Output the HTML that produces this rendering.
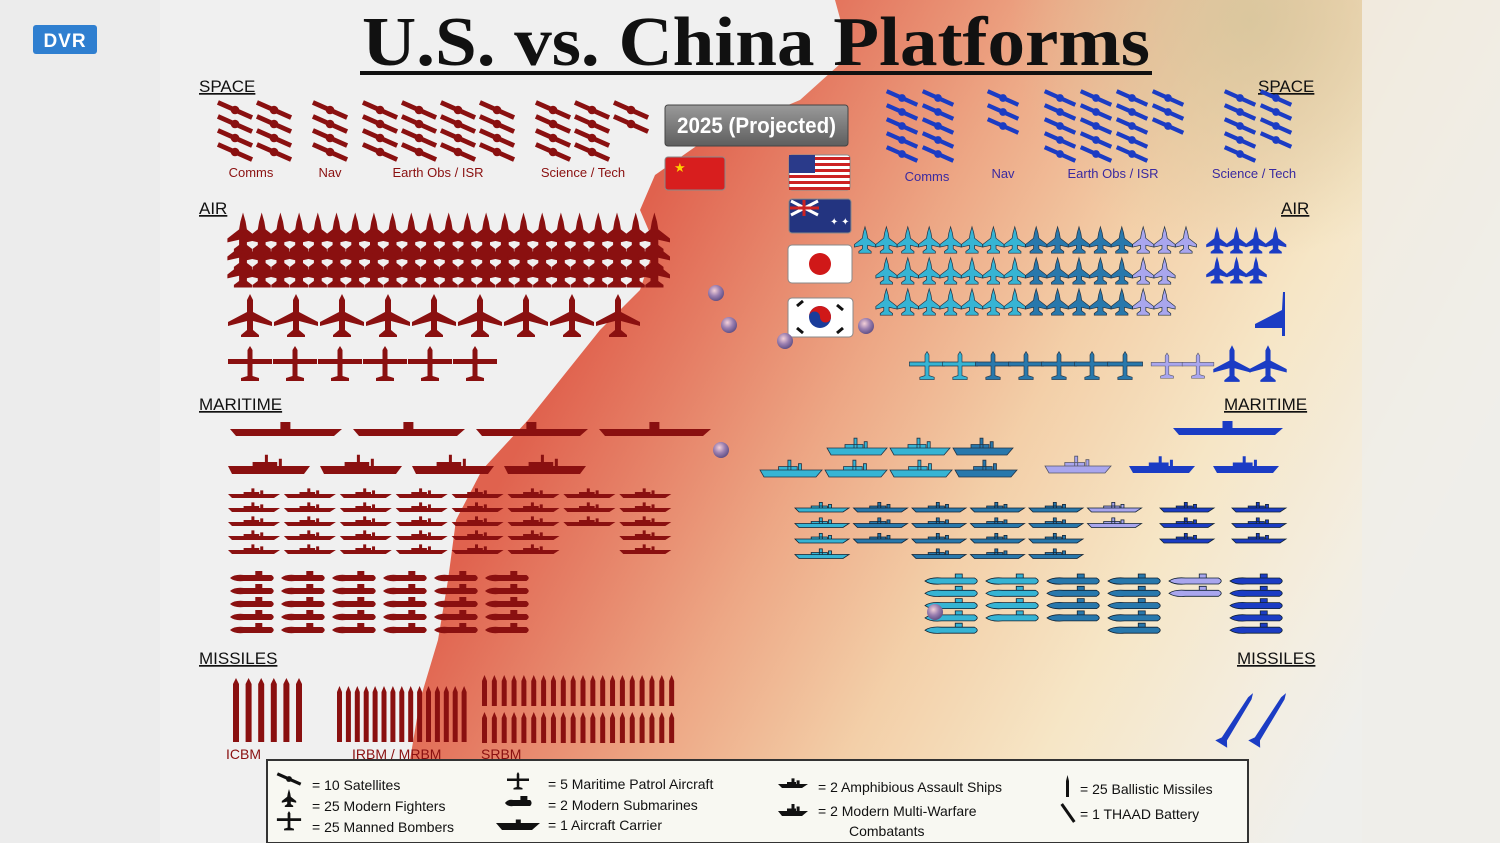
<!DOCTYPE html>
<html><head><meta charset="utf-8"><style>
html,body{margin:0;padding:0;background:#ececec;}
svg{display:block;font-family:"Liberation Sans",sans-serif;}
</style></head><body>
<svg id="chart" width="1500" height="843" viewBox="0 0 1500 843" xmlns="http://www.w3.org/2000/svg">
<defs>
<linearGradient id="heat" gradientUnits="userSpaceOnUse" x1="580" y1="330" x2="1350" y2="740">
<stop offset="0" stop-color="#e0624e"/><stop offset="0.12" stop-color="#e57d64"/><stop offset="0.3" stop-color="#eda785"/>
<stop offset="0.5" stop-color="#f3cfa8"/><stop offset="0.7" stop-color="#f6e6c6"/><stop offset="0.9" stop-color="#f3eee2"/><stop offset="1" stop-color="#efefec"/>
</linearGradient>
<radialGradient id="topbeige" gradientUnits="userSpaceOnUse" cx="1250" cy="20" r="240"><stop offset="0" stop-color="#d6c59c" stop-opacity="0.85"/><stop offset="1" stop-color="#d6c59c" stop-opacity="0"/></radialGradient>
<linearGradient id="btn" x1="0" y1="0" x2="0" y2="1"><stop offset="0" stop-color="#9a9a9a"/><stop offset="1" stop-color="#5e5e5e"/></linearGradient>
<radialGradient id="globe" cx="0.4" cy="0.35" r="0.7"><stop offset="0" stop-color="#f4d0d8"/><stop offset="0.5" stop-color="#9a7fb0"/><stop offset="1" stop-color="#5a4a80"/></radialGradient>
</defs>
<rect x="0" y="0" width="1500" height="843" fill="#ececec"/>
<rect x="160" y="0" width="1200" height="843" fill="#f0f0f0"/>
<polygon fill="url(#heat)" points="835,0 850,55 800,100 705,140 655,175 640,210 655,245 640,290 600,330 560,380 528,420 482,470 456,520 448,580 438,640 420,700 410,760 410,843 1500,843 1500,0"/>
<rect x="1000" y="0" width="362" height="270" fill="url(#topbeige)"/>
<rect x="1362" y="0" width="138" height="843" fill="#efeeea" opacity="0.75"/>
<rect x="33" y="25" width="64" height="29" rx="3" fill="#2f7fd0"/>
<text x="65" y="47" text-anchor="middle" fill="#fff" font-size="19" font-weight="bold" letter-spacing="1">DVR</text>
<text x="362" y="65" textLength="788" lengthAdjust="spacingAndGlyphs" font-family="Liberation Serif,serif" font-weight="bold" font-size="70" fill="#111">U.S. vs. China Platforms</text>
<rect x="360" y="71" width="792" height="4" fill="#111"/>
<g id="labels" font-size="17" fill="#111"></g>
<g id="marks"></g>
<rect x="665" y="105" width="183" height="41" rx="3" fill="url(#btn)" stroke="#444"/>
<text x="677" y="133" textLength="159" lengthAdjust="spacingAndGlyphs" fill="#fff" font-size="22" font-weight="bold">2025 (Projected)</text>
<g>
<rect x="665" y="157" width="60" height="33" rx="3" fill="#d81e1e" stroke="#888"/>
<text x="674" y="172" fill="#ffd000" font-size="13">★</text></g>
<g>
<rect x="789" y="155" width="61" height="35" rx="3" fill="#fff" stroke="#888"/>
<rect x="789" y="157" width="61" height="3" fill="#c22"/><rect x="789" y="163" width="61" height="3" fill="#c22"/><rect x="789" y="169" width="61" height="3" fill="#c22"/><rect x="789" y="175" width="61" height="3" fill="#c22"/><rect x="789" y="181" width="61" height="3" fill="#c22"/><rect x="789" y="187" width="61" height="3" fill="#c22"/>
<rect x="789" y="155" width="26" height="18" fill="#2a3a8a"/></g>
<g>
<rect x="789" y="199" width="62" height="34" rx="3" fill="#233480" stroke="#888"/>
<path d="M791,201 L818,215 M818,201 L791,215" stroke="#fff" stroke-width="3"/><path d="M804,200 V216 M790,208 H819" stroke="#c22" stroke-width="3"/>
<text x="830" y="225" fill="#fff" font-size="10">✦ ✦</text></g>
<g>
<rect x="788" y="245" width="64" height="38" rx="4" fill="#fff" stroke="#888"/><circle cx="820" cy="264" r="11" fill="#d01818"/></g>
<g>
<rect x="788" y="298" width="65" height="39" rx="4" fill="#fff" stroke="#888"/>
<circle cx="820" cy="317" r="11" fill="#1a3c9a"/><path d="M809,317 A11,11 0 0 1 831,317 A5.5,5.5 0 0 1 820,317 A5.5,5.5 0 0 0 809,317Z" fill="#d01818"/>
<path d="M797,306 l6,-5 M837,305 l6,5 M797,328 l6,5 M837,333 l6,-5" stroke="#111" stroke-width="3"/></g>
<g id="globes"></g>
<rect x="267" y="760" width="981" height="83" fill="#f8f8f2" stroke="#333" stroke-width="2"/>
<g id="legend" font-size="14" fill="#111"></g>
</svg>
<script>
// ===== data (counts of icons) =====
const satGroups = ['Comms','Nav','Earth Obs / ISR','Science / Tech'];
const cnSatCounts = [8,4,16,10];
const usSatCounts = [10,3,18,9];
const cnFighters = 69;
const usFighterTypes = ['cyan','teal','lavender','blue'];
const usFighterCounts = [22,15,7,7];
const cnPatrol = 9;
const cnBombers = 6;
const usPatrolCounts = [2,5,2,2];
const usBombers = 1;
const cnCarriers = 4;
const cnAmphib = 4;
const cnDestroyerCols = [5,5,5,5,5,5,3,5];
const cnSubCols = [5,5,5,5,5,5];
const usCarriers = 1;
const usAmphibCounts = [5,2,1,2];
const usDestroyerCols = [4,3,4,4,4,2,3,3];
const usDestroyerColTypes = [0,1,1,1,1,2,3,3];
const usSubCols = [5,4,4,5,2,5];
const usSubColTypes = [0,0,1,1,2,3];
const cnMissileGroups = ['ICBM','IRBM / MRBM','SRBM'];
const cnMissileCounts = [6,15,40];
const usThaad = 2;

// ===== rendering =====
const NS='http://www.w3.org/2000/svg';
const RED='#8a1010';
const US=['#36b4d4','#2878ac','#a9a6ee','#1b3cc4'];
const marks=document.getElementById('marks');
function mk(tag,parent){const e=document.createElementNS(NS,tag);parent.appendChild(e);return e;}
function P(d,fill,parent,stroke){const e=mk('path',parent);e.setAttribute('d',d);e.setAttribute('fill',fill);if(stroke){e.setAttribute('stroke',stroke);e.setAttribute('stroke-width','0.8');}return e;}
const FIGHTER='M0,-15 L2,-8 L3,-2 L12,5 L12,8 L3,6 L3,10 L7,13 L7,15 L-7,15 L-7,13 L-3,10 L-3,6 L-12,8 L-12,5 L-3,-2 L-2,-8Z';
const PLANE='M0,-22 L3,-16 L3,-4 L22,6 L22,10 L3,5 L3,14 L9,19 L9,21 L-9,21 L-9,19 L-3,14 L-3,5 L-22,10 L-22,6 L-3,-4 L-3,-16Z';
const BOMBER='M0,-18 L2.5,-14 L2.5,-5 L22,-5 L22,0 L2.5,0 L2.5,12 L9,14 L9,17 L-9,17 L-9,14 L-2.5,12 L-2.5,0 L-22,0 L-22,-5 L-2.5,-5 L-2.5,-14Z';
function grp(x,y,s,parent){const g=mk('g',parent||marks);g.setAttribute('transform','translate('+x+','+y+') scale('+s+')');return g;}
function sat(x,y,color,s,parent){const g=grp(x,y,s||1,parent);
 const l=mk('line',g);l.setAttribute('x1',-18);l.setAttribute('y1',-8);l.setAttribute('x2',18);l.setAttribute('y2',8);l.setAttribute('stroke',color);l.setAttribute('stroke-width',5);
 const c=mk('circle',g);c.setAttribute('r',4.5);c.setAttribute('fill',color);return g;}
function carrier(x,y,w,color,parent,isl){const g=grp(x,y,1,parent);isl=isl||10;P('M0,-3 L'+w+',-3 L'+(w-8)+',4 L6,4Z M'+(w*0.45)+',-3 v-'+(isl*0.7)+' h'+isl+' v'+(isl*0.7)+'Z',color,g);return g;}
function ship(x,y,w,color,h,stroke,parent){const g=grp(x,y,1,parent);h=h||7;
 P('M0,0 L'+w+',0 L'+(w-6)+','+h+' L4,'+h+'Z M'+(w*0.3)+',0 v-'+(h*0.5)+' h'+(w*0.3)+' v'+(h*0.5)+'Z M'+(w*0.45)+',0 v-'+(h*1.4)+' h3 v'+(h*1.4)+'Z M'+(w*0.62)+',0 v-'+(h*0.9)+' h3 v'+(h*0.9)+'Z',color,g,stroke);return g;}
function sub(x,y,w,color,stroke,parent){const g=grp(x,y,1,parent);
 P('M0,0 Q'+(w*0.1)+',-4 '+(w*0.3)+',-3 L'+(w*0.9)+',-3 Q'+w+',0 '+(w*0.9)+',3 L'+(w*0.3)+',3 Q'+(w*0.1)+',4 0,0Z M'+(w*0.55)+',-3 v-4 h7 v4Z',color,g,stroke);return g;}
function missile(x,y1,y2,w,color,parent){const g=grp(x,0,1,parent);P('M0,'+(y1+6)+' L'+(w/2)+','+y1+' L'+w+','+(y1+6)+' L'+w+','+y2+' L0,'+y2+'Z',color,g);return g;}
function label(txt,x,y,color,size,anchor,parent){const t=mk('text',parent||marks);t.setAttribute('x',x);t.setAttribute('y',y);t.setAttribute('fill',color);t.setAttribute('font-size',size);if(anchor)t.setAttribute('text-anchor',anchor);t.textContent=txt;return t;}

// section headers
const L=document.getElementById('labels');
[['SPACE',199,92,'left'],['SPACE',1258,92,'right'],['AIR',199,214,'left'],['AIR',1281,214,'right'],['MARITIME',199,410,'left'],['MARITIME',1224,410,'right'],['MISSILES',199,664,'left'],['MISSILES',1237,664,'right']].forEach(h=>{
 const t=label(h[0],h[1],h[2],'#111',17,null,L);
 
 
 t.setAttribute('text-decoration','underline');
});

// satellites (each icon = 10)
const cnSatX=[235,330,380,553], usSatX=[902,1003,1060,1240], cnLabX=[251,330,438,583], usLabX=[927,1003,1113,1254];
satGroups.forEach((name,gi)=>{
 const g=mk('g',marks);
 
 
 for(let i=0;i<cnSatCounts[gi];i++){const c=Math.floor(i/4),r=i%4;sat(cnSatX[gi]+c*39,110+r*14,RED,0.95,g);}
 const t=label(name,cnLabX[gi],177,RED,13,'middle');
 
 
 const u=mk('g',marks);
 
 
 for(let i=0;i<usSatCounts[gi];i++){const c=Math.floor(i/5),r=i%5;sat(usSatX[gi]+c*36,98+r*14,US[3],0.85,u);}
 const t2=label(name,usLabX[gi],gi==0?181:178,'#3a2aa0',13,'middle');
 
 
});

// China fighters
{const g=mk('g',marks);
 
 
 const rows=3;
 for(let i=0;i<cnFighters;i++){const c=Math.floor(i/rows),r=i%rows;P(FIGHTER,RED,grp(243+c*18.7,232+r*18,1.3,g));}}
// US fighters
{const g=mk('g',marks);
 
 
 let col=0;
 for(let t=0;t<3;t++){const n=usFighterCounts[t];const full=Math.floor(n/3),rem=n%3;
  const colsList=[];if(t==0&&rem){colsList.push(rem);}for(let k=0;k<full;k++)colsList.push(3);if(t!=0&&rem)colsList.push(rem);
  colsList.forEach(cnt=>{for(let r=0;r<cnt;r++)P(FIGHTER,US[t],grp(865+col*21.4,240+r*31,0.88,g),'#234');col++;});}
 for(let i=0;i<usFighterCounts[3];i++){P(FIGHTER,US[3],grp(1217+(i%4)*19.5,240+Math.floor(i/4)*30,0.9,g));}}
// patrol & bombers
{const g=mk('g',marks);
 
 
 for(let i=0;i<cnPatrol;i++)P(PLANE,RED,grp(250+i*46,316,1,g));
 const b=mk('g',marks);
 
 
 for(let i=0;i<cnBombers;i++)P(BOMBER,RED,grp(250+i*45,364,1,b));
 const u=mk('g',marks);
 
 
 let k=0;
 for(let t=0;t<2;t++)for(let i=0;i<usPatrolCounts[t];i++){P(BOMBER,US[t],grp(927+k*33,366,0.8,u),'#234');k++;}
 for(let i=0;i<usPatrolCounts[2];i++)P(BOMBER,US[2],grp(1167+i*31,366,0.72,u),'#556');
 for(let i=0;i<usPatrolCounts[3];i++)P(PLANE,US[3],grp(1232+i*36,364,0.85,u));
 const ub=mk('g',marks);
 
 
 for(let i=0;i<usBombers;i++){P('M28,0 L30,0 L30,44 L27,44 L27,36 L0,36 L0,32 L27,18Z',US[3],grp(1255+i*30,292,1,ub));}}
// ships
{const g=mk('g',marks);
 
 
 for(let i=0;i<cnCarriers;i++)carrier(230+i*123,432,112,RED,g);
 const a=mk('g',marks);
 
 
 for(let i=0;i<cnAmphib;i++)ship(228+i*92,466,82,RED,8,null,a);
 const d=mk('g',marks);
 
 
 cnDestroyerCols.forEach((n,c)=>{for(let r=0;r<n;r++)ship(228+c*55.9,494+r*14,52,RED,4,null,d);});
 const s=mk('g',marks);
 
 
 cnSubCols.forEach((n,c)=>{for(let r=0;r<n;r++)sub(230+c*51,578+r*13,46,RED,null,s);});
 const uc=mk('g',marks);
 
 
 for(let i=0;i<usCarriers;i++)carrier(1173+i*115,431,110,US[3],uc);
 const ua=mk('g',marks);
 
 
 let r2=0,r1=0;
 for(let t=0;t<2;t++){const n=usAmphibCounts[t],low=Math.ceil(n/2);
  for(let i=0;i<low;i++){ship(760+r2*65,470,62,US[t],7,'#234',ua);r2++;}
  for(let i=0;i<n-low;i++){ship(827+r1*63,448,60,US[t],7,'#234',ua);r1++;}}
 let k=0;
 for(let t=2;t<4;t++)for(let i=0;i<usAmphibCounts[t];i++){ship(1045+k*84,466,66,US[t],7,t==2?'#556':null,ua);k++;}
 const ud=mk('g',marks);
 
 
 usDestroyerCols.forEach((n,c)=>{const x=c<6?795+c*58.5:1160+(c-6)*72;for(let r=0;r<n;r++)ship(x,508+r*15.5,54,US[usDestroyerColTypes[c]],4,'#123',ud);});
 const us=mk('g',marks);
 
 
 usSubCols.forEach((n,c)=>{for(let r=0;r<n;r++)sub(925+c*61,581+r*12.3,55,US[usSubColTypes[c]],'#123',us);});}
// missiles
{const g=mk('g',marks);
 
 
 for(let i=0;i<cnMissileCounts[0];i++)missile(233+i*12.6,678,742,6,RED,g);
 for(let i=0;i<cnMissileCounts[1];i++)missile(337+i*8.9,686,742,5,RED,g);
 for(let i=0;i<cnMissileCounts[2];i++){const r=Math.floor(i/20),c=i%20;missile(482+c*9.85,675+r*37,706+r*37,5,RED,g);}
 [[226,'ICBM'],[352,'IRBM / MRBM'],[481,'SRBM']].forEach((m,i)=>{const t=label(cnMissileGroups[i],m[0],759,RED,14);
  
  });
 const u=mk('g',marks);
 
 
 for(let i=0;i<usThaad;i++){const q=grp(1235+i*33,722,1,u);q.setAttribute('transform','translate('+(1235+i*33)+',722) rotate(32)');P('M-2,-28 L0,-34 L2,-28 L3,20 L7,26 L-7,26 L-3,20Z',US[3],q);}}
// globes
{const G=document.getElementById('globes');
 [[716,293],[729,325],[785,341],[866,326],[721,450],[935,612]].forEach(p=>{const c=mk('circle',G);c.setAttribute('cx',p[0]);c.setAttribute('cy',p[1]);c.setAttribute('r',8);c.setAttribute('fill','url(#globe)');
  
  });}
// legend
{const Lg=document.getElementById('legend');
 const K='#111';
 sat(289,779,K,0.65,Lg);P(FIGHTER,K,grp(289,798,0.6,Lg));P(BOMBER,K,grp(289,821,0.55,Lg));
 P(BOMBER,K,grp(518,781,0.5,Lg));sub(505,803,28,K,null,Lg);carrier(496,826,44,K,Lg,5);
 ship(778,784,30,K,4,null,Lg);ship(778,811,30,K,5,null,Lg);
 missile(1066,775,797,3,K,Lg);const q=grp(1068,813,1,Lg);q.setAttribute('transform','translate(1068,813) rotate(-35)');P('M-1.5,-11 L1.5,-11 L1.5,11 L-1.5,11Z',K,q);
 [['= 10 Satellites',312,790],['= 25 Modern Fighters',312,811],['= 25 Manned Bombers',312,832],['= 5 Maritime Patrol Aircraft',548,789],['= 2 Modern Submarines',548,810],['= 1 Aircraft Carrier',548,830],['= 2 Amphibious Assault Ships',818,792],['= 2 Modern Multi-Warfare',818,816],['Combatants',849,836],['= 25 Ballistic Missiles',1080,794],['= 1 THAAD Battery',1080,819]].forEach(e=>{
  const t=label(e[0],e[1],e[2],K,14,null,Lg);
  
  });}
</script>
</body></html>
